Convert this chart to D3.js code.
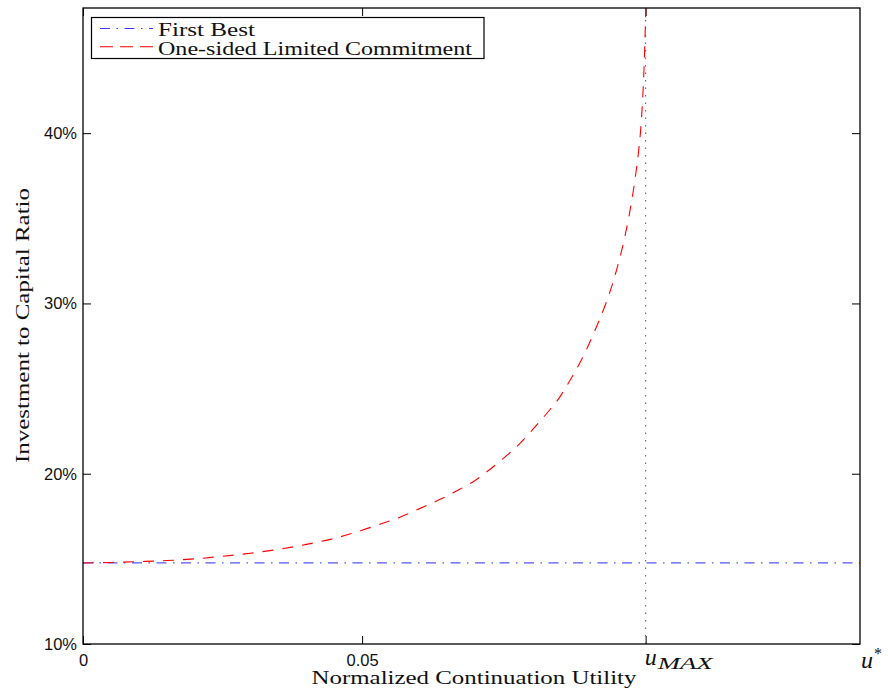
<!DOCTYPE html>
<html>
<head>
<meta charset="utf-8">
<script src="https://cdn.jsdelivr.net/npm/d3@7"></script>
<style>
  body { margin: 0; background: #fff; }
  .tick text { font-family: "Liberation Sans", Arial, sans-serif; font-size: 16.5px; fill: #111; }
</style>
</head>
<body>
<svg id="chart" width="888" height="698"></svg>
<script>
// Normalized continuation utility (x) and the investment-to-capital ratio
// under one-sided limited commitment (y).
const utility = [0, 0.005, 0.010, 0.015, 0.020, 0.025, 0.030, 0.035, 0.040, 0.045, 0.050,
  0.0526, 0.0568, 0.0603, 0.0637, 0.0670, 0.0703, 0.0723, 0.0753, 0.0782, 0.0807, 0.0831,
  0.0855, 0.08637, 0.08817, 0.08977, 0.09117, 0.09247, 0.09367, 0.09472, 0.09562, 0.09642,
  0.09712, 0.09774, 0.09829, 0.09877, 0.09919, 0.09955, 0.09986, 0.10008, 0.10026, 0.10041,
  0.10053, 0.10063, 0.10072, 0.10080, 0.10086];
const ratioLimited = [0.1476, 0.1479, 0.1484, 0.1490, 0.1500, 0.1515, 0.1533, 0.1556, 0.1585, 0.1620, 0.1668,
  0.1697, 0.1745, 0.1795, 0.1845, 0.1900, 0.1962, 0.2010, 0.2090, 0.2175, 0.2265, 0.2355,
  0.2454, 0.2500, 0.2600, 0.2700, 0.2800, 0.2900, 0.3000, 0.3100, 0.3200, 0.3300,
  0.3400, 0.3500, 0.3600, 0.3700, 0.3800, 0.3900, 0.4000, 0.4100, 0.4200, 0.4300,
  0.4400, 0.4500, 0.4600, 0.4700, 0.4780];

// First-best ratio is constant across utility levels.
const firstBest = 0.1476;

// Key utility levels on the horizontal axis.
const uMax = 0.1008;
const uStar = 0.1392;

const xTickValues = [0, 0.05];
const xTickLabels = ["0", "0.05"];
const yTickValues = [0.10, 0.20, 0.30, 0.40];
const yTickLabels = ["10%", "20%", "30%", "40%"];

const seriesNames = ["First Best", "One-sided Limited Commitment"];
const xTitle = "Normalized Continuation Utility";
const yTitle = "Investment to Capital Ratio";

const plot = { left: 83, top: 8, right: 860, bottom: 644 };

const svg = d3.select("#chart");

const x = d3.scaleLinear().domain([0, uStar]).range([plot.left, plot.right]);
const y = d3.scaleLinear().domain([0.10, 0.4735]).range([plot.bottom, plot.top]);

svg.append("defs").append("clipPath").attr("id", "plotClip")
  .append("rect")
  .attr("x", plot.left).attr("y", plot.top)
  .attr("width", plot.right - plot.left).attr("height", plot.bottom - plot.top);

const serif = "'Liberation Serif', 'Times New Roman', serif";

// Axes with inward ticks on all four sides
const tickLen = 8;
const allXTicks = xTickValues.concat([uMax]);

const xBottom = svg.append("g")
  .attr("transform", `translate(0,${plot.bottom})`)
  .call(d3.axisBottom(x).tickValues(allXTicks).tickSize(-tickLen).tickPadding(10)
    .tickFormat(d => { const i = xTickValues.indexOf(d); return i >= 0 ? xTickLabels[i] : ""; }));
const xTop = svg.append("g")
  .attr("transform", `translate(0,${plot.top})`)
  .call(d3.axisTop(x).tickValues(allXTicks).tickSize(-tickLen).tickFormat(""));
const yLeft = svg.append("g")
  .attr("transform", `translate(${plot.left},0)`)
  .call(d3.axisLeft(y).tickValues(yTickValues).tickSize(-tickLen).tickPadding(6)
    .tickFormat((d, i) => yTickLabels[i]));
const yRight = svg.append("g")
  .attr("transform", `translate(${plot.right},0)`)
  .call(d3.axisRight(y).tickValues(yTickValues).tickSize(-tickLen).tickFormat(""));

[xBottom, xTop, yLeft, yRight].forEach(g => {
  g.select(".domain").remove();
  g.selectAll(".tick line").attr("stroke", "#000").attr("stroke-width", 1);
});

// Math-style tick labels for u_MAX and u*
const uMaxLabel = svg.append("text")
  .attr("x", x(uMax) - 1).attr("y", 665)
  .attr("font-family", serif).attr("font-style", "italic").attr("fill", "#111");
uMaxLabel.append("tspan").attr("font-size", 24).text("u");
uMaxLabel.append("tspan").attr("font-size", 16).attr("dx", 1).attr("dy", 4)
  .attr("textLength", 55).attr("lengthAdjust", "spacingAndGlyphs").text("MAX");

const uStarLabel = svg.append("text")
  .attr("x", x(uStar) + 1).attr("y", 668)
  .attr("font-family", serif).attr("font-style", "italic").attr("fill", "#111");
uStarLabel.append("tspan").attr("font-size", 24).text("u");
uStarLabel.append("tspan").attr("font-size", 16).attr("font-style", "normal").attr("dx", 1).attr("dy", -9).text("*");

// Curves
const plotArea = svg.append("g").attr("clip-path", "url(#plotClip)");

// Vertical dotted reference at u_MAX
plotArea.append("line")
  .attr("x1", x(uMax)).attr("x2", x(uMax))
  .attr("y1", plot.bottom).attr("y2", plot.top)
  .attr("stroke", "#555").attr("stroke-width", 1)
  .attr("stroke-dasharray", "1.5,6");

const blueDash = "10,6.5,1.5,6.5";
const redDash = "11,9";

plotArea.append("line")
  .attr("x1", x(0)).attr("x2", x(uStar))
  .attr("y1", y(firstBest)).attr("y2", y(firstBest))
  .attr("stroke", "#3a3aff").attr("stroke-width", 1.2).attr("stroke-opacity", 0.85)
  .attr("stroke-dasharray", blueDash);

const lineGen = d3.line()
  .x((d, i) => x(utility[i]))
  .y(d => y(d))
  .curve(d3.curveMonotoneX);

plotArea.append("path")
  .datum(ratioLimited)
  .attr("d", lineGen)
  .attr("fill", "none")
  .attr("stroke", "#ff0000").attr("stroke-width", 1.1)
  .attr("stroke-dasharray", redDash);

// Frame
svg.append("rect")
  .attr("x", plot.left).attr("y", plot.top)
  .attr("width", plot.right - plot.left).attr("height", plot.bottom - plot.top)
  .attr("fill", "none").attr("stroke", "#000").attr("stroke-width", 1.3);

// Legend
const legend = svg.append("g");
legend.append("rect")
  .attr("x", 91.5).attr("y", 17.5).attr("width", 392.5).attr("height", 41)
  .attr("fill", "#fff").attr("stroke", "#000").attr("stroke-width", 1.2);
const legendRows = [
  { name: seriesNames[0], color: "#3a3aff", dash: blueDash, y: 28.5, base: 36, len: 97 },
  { name: seriesNames[1], color: "#ff0000", dash: "13,7", y: 46.7, base: 55, len: 314 }
];
legendRows.forEach(r => {
  legend.append("line")
    .attr("x1", 100).attr("x2", 153).attr("y1", r.y).attr("y2", r.y)
    .attr("stroke", r.color).attr("stroke-width", 1.1).attr("stroke-dasharray", r.dash);
  legend.append("text")
    .attr("x", 158).attr("y", r.base)
    .attr("font-family", serif).attr("font-size", 19).attr("fill", "#111")
    .attr("textLength", r.len).attr("lengthAdjust", "spacingAndGlyphs")
    .text(r.name);
});

// Axis titles
svg.append("text")
  .attr("x", 474).attr("y", 684).attr("text-anchor", "middle")
  .attr("font-family", serif).attr("font-size", 19).attr("fill", "#111")
  .attr("textLength", 325).attr("lengthAdjust", "spacingAndGlyphs")
  .text(xTitle);

svg.append("text")
  .attr("transform", "translate(29,325.5) rotate(-90)")
  .attr("text-anchor", "middle")
  .attr("font-family", serif).attr("font-size", 19).attr("fill", "#111")
  .attr("textLength", 275).attr("lengthAdjust", "spacingAndGlyphs")
  .text(yTitle);
</script>
</body>
</html>
